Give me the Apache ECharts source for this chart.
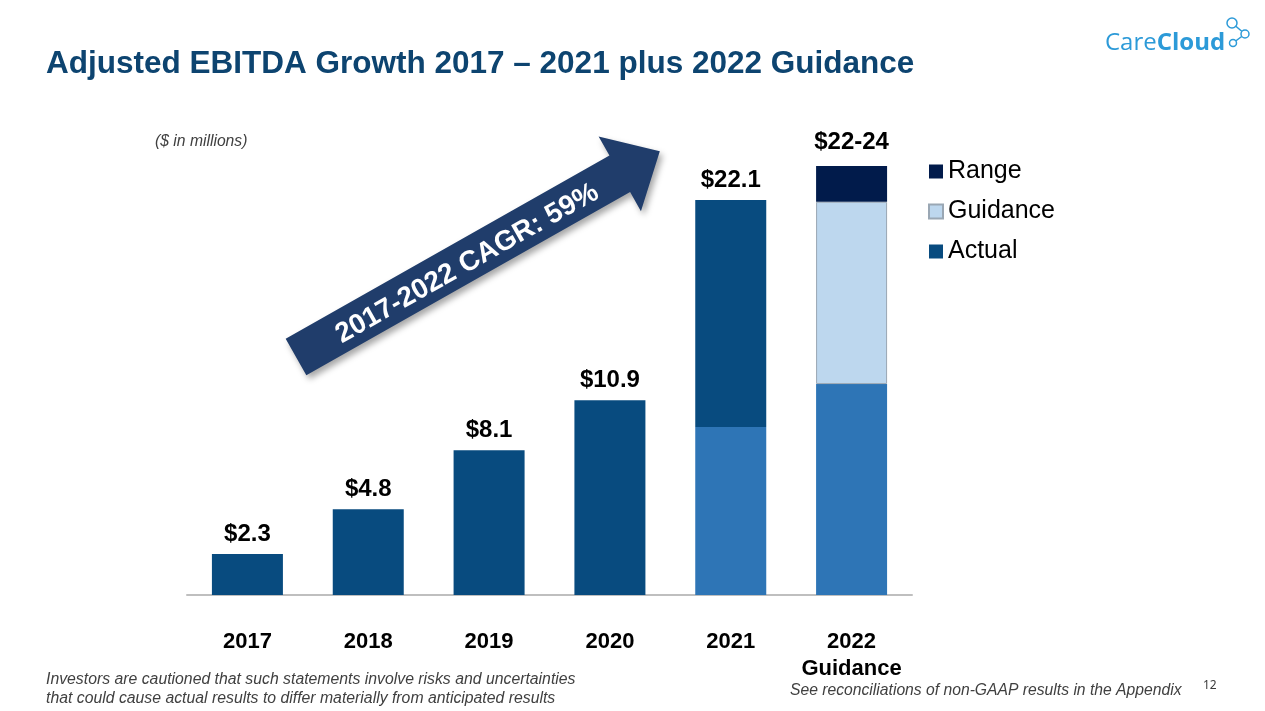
<!DOCTYPE html>
<html>
<head>
<meta charset="utf-8">
<script src="https://cdn.jsdelivr.net/npm/echarts@6/dist/echarts.min.js"></script>
<style>
  html, body { margin: 0; padding: 0; background: #fff; }
  #chart { width: 1265px; height: 711px; }
</style>
</head>
<body>
<div id="chart"></div>
<script>
// data ($ in millions)
const categories = ['2017', '2018', '2019', '2020', '2021', '2022\nGuidance'];
const baseValues = [null, null, null, null, 9.4, 11.8];
const actualValues = [2.3, 4.8, 8.1, 10.9, 12.7, null];
const guidanceValues = [null, null, null, null, null, 10.2];
const rangeValues = [null, null, null, null, null, 2.0];
const barLabels = ['$2.3', '$4.8', '$8.1', '$10.9', '$22.1', '$22-24'];
const legendNames = ['Range', 'Guidance', 'Actual'];

const FONT = '"Liberation Sans", Arial, sans-serif';
const LOGO = '#2C9AD8';

const myChart = echarts.init(document.getElementById('chart'));

const topLabel = {
  show: true,
  position: 'top',
  distance: 8,
  fontFamily: FONT,
  fontSize: 24,
  fontWeight: 'bold',
  color: '#000'
};

const option = {
  animation: false,
  title: {
    text: 'Adjusted EBITDA Growth 2017 \u2013 2021 plus 2022 Guidance',
    left: 46,
    top: 48,
    padding: 0,
    textStyle: {
      fontFamily: FONT,
      fontSize: 31.5,
      fontWeight: 'bold',
      color: '#0D4470'
    }
  },
  legend: {
    data: legendNames,
    orient: 'vertical',
    left: 928,
    top: 159,
    padding: 0,
    icon: 'rect',
    itemWidth: 14,
    itemHeight: 14,
    itemGap: 15,
    selectedMode: false,
    textStyle: {
      fontFamily: FONT,
      fontSize: 25,
      color: '#000'
    }
  },
  grid: {
    left: 187,
    right: 353,
    top: 166,
    bottom: 116
  },
  xAxis: {
    type: 'category',
    data: categories,
    axisLine: { lineStyle: { color: '#BFBFBF', width: 2 } },
    axisTick: { show: false },
    axisLabel: {
      interval: 0,
      margin: 33,
      fontFamily: FONT,
      fontSize: 22,
      fontWeight: 'bold',
      lineHeight: 27,
      color: '#000'
    }
  },
  yAxis: {
    type: 'value',
    min: 0,
    max: 24,
    show: false,
    splitLine: { show: false }
  },
  series: [
    {
      name: 'Base',
      type: 'bar',
      stack: 'total',
      barWidth: 71,
      data: baseValues,
      itemStyle: { color: '#2E75B6' }
    },
    {
      name: 'Actual',
      type: 'bar',
      stack: 'total',
      barWidth: 71,
      data: actualValues,
      itemStyle: { color: '#084B7F' },
      label: Object.assign({}, topLabel, {
        formatter: p => (p.value == null ? '' : barLabels[p.dataIndex])
      })
    },
    {
      name: 'Guidance',
      type: 'bar',
      stack: 'total',
      barWidth: 71,
      data: guidanceValues,
      itemStyle: { color: '#BDD7EE', borderColor: '#9AA7B4', borderWidth: 1 }
    },
    {
      name: 'Range',
      type: 'bar',
      stack: 'total',
      barWidth: 71,
      data: rangeValues,
      itemStyle: { color: '#011B4B' },
      label: Object.assign({}, topLabel, {
        distance: 12,
        formatter: p => (p.value == null ? '' : barLabels[p.dataIndex])
      })
    }
  ],
  graphic: [
    // CAGR arrow
    {
      type: 'group',
      x: 296,
      y: 357,
      rotation: 29.5 * Math.PI / 180,
      children: [
        {
          type: 'polygon',
          shape: { points: [[0, -21], [372, -21], [372, -43], [418, 0], [372, 43], [372, 21], [0, 21]] },
          style: {
            fill: '#203D6B',
            shadowBlur: 6,
            shadowOffsetX: 3,
            shadowOffsetY: 4,
            shadowColor: 'rgba(0,0,0,0.35)'
          }
        },
        {
          type: 'text',
          x: 195,
          y: 3,
          style: {
            text: '2017-2022 CAGR: 59%',
            fill: '#fff',
            font: 'bold 28px ' + FONT,
            align: 'center',
            verticalAlign: 'middle'
          }
        }
      ]
    },
    {
      type: 'text',
      left: 155,
      top: 134,
      style: { text: '($ in millions)', fill: '#404040', font: 'italic 15.7px ' + FONT }
    },
    {
      type: 'text',
      left: 46,
      top: 670,
      style: {
        text: 'Investors are cautioned that such statements involve risks and uncertainties\nthat could cause actual results to differ materially from anticipated results',
        fill: '#404040',
        font: 'italic 15.8px ' + FONT,
        lineHeight: 19
      }
    },
    {
      type: 'text',
      left: 790,
      top: 683,
      style: { text: 'See reconciliations of non-GAAP results in the Appendix', fill: '#404040', font: 'italic 15.7px ' + FONT }
    },
    {
      type: 'text',
      left: 1203,
      top: 680,
      style: { text: '12', fill: '#3A3A3A', font: '12px "Noto Sans", sans-serif' }
    },
    // logo
    {
      type: 'text',
      left: 1105,
      top: 31,
      style: {
        text: '{a|Care}{b|Cloud}',
        rich: {
          a: { fontFamily: '"Open Sans", sans-serif', fontSize: 24, fontWeight: 'normal', fill: LOGO },
          b: { fontFamily: '"Open Sans", sans-serif', fontSize: 24, fontWeight: 'bold', fill: LOGO }
        }
      }
    },
    { type: 'line', shape: { x1: 1232, y1: 23, x2: 1245, y2: 34 }, style: { stroke: LOGO, lineWidth: 1.5 } },
    { type: 'line', shape: { x1: 1245, y1: 34, x2: 1233, y2: 43 }, style: { stroke: LOGO, lineWidth: 1.5 } },
    { type: 'circle', shape: { cx: 1232, cy: 23, r: 5 }, style: { fill: '#fff', stroke: LOGO, lineWidth: 1.5 } },
    { type: 'circle', shape: { cx: 1245, cy: 34, r: 4 }, style: { fill: '#fff', stroke: LOGO, lineWidth: 1.5 } },
    { type: 'circle', shape: { cx: 1233, cy: 43, r: 3.5 }, style: { fill: '#fff', stroke: LOGO, lineWidth: 1.5 } }
  ]
};

myChart.setOption(option);
window.addEventListener('resize', function () {
  myChart.resize();
});
</script>
</body>
</html>
